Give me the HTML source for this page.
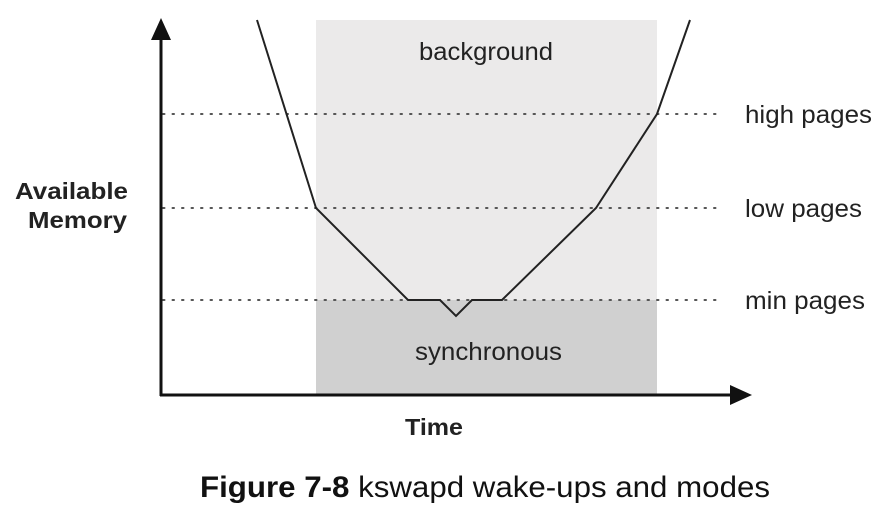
<!DOCTYPE html>
<html><head><style>
body{margin:0;background:#fff;}
svg{display:block;}
</style></head><body>
<svg width="892" height="505" xmlns="http://www.w3.org/2000/svg" font-family="Liberation Sans, sans-serif">
<rect x="316" y="20" width="341" height="280" fill="#ebeaea"/>
<rect x="316" y="300" width="341" height="94" fill="#d0d0d0"/>
<g stroke="#555" stroke-width="2" stroke-dasharray="1.5 8" stroke-linecap="round">
<line x1="163" y1="114" x2="722" y2="114"/>
<line x1="163" y1="208" x2="722" y2="208"/>
<line x1="163" y1="300" x2="722" y2="300"/>
</g>
<polyline points="257,20 316,208 408,300 440,300 456,316 472,300 502,300 596,208 657,114 690,20" fill="none" stroke="#222" stroke-width="2"/>
<line x1="161" y1="396" x2="161" y2="36" stroke="#111" stroke-width="3"/>
<polygon points="161,18 151,40 171,40" fill="#111"/>
<line x1="160" y1="395" x2="732" y2="395" stroke="#111" stroke-width="3"/>
<polygon points="752,395 730,385 730,405" fill="#111"/>
<g font-size="25" fill="#222">
<text x="419" y="60" textLength="134" lengthAdjust="spacingAndGlyphs">background</text>
<text x="415" y="360" textLength="147" lengthAdjust="spacingAndGlyphs">synchronous</text>
<text x="745" y="123" textLength="127" lengthAdjust="spacingAndGlyphs">high pages</text>
<text x="745" y="217" textLength="117" lengthAdjust="spacingAndGlyphs">low pages</text>
<text x="745" y="309" textLength="120" lengthAdjust="spacingAndGlyphs">min pages</text>
</g>
<g font-size="23" font-weight="bold" fill="#222">
<text x="15" y="199" textLength="113" lengthAdjust="spacingAndGlyphs">Available</text>
<text x="28" y="228" textLength="99" lengthAdjust="spacingAndGlyphs">Memory</text>
<text x="405" y="435" textLength="58" lengthAdjust="spacingAndGlyphs">Time</text>
</g>
<text x="200" y="497" font-size="30" fill="#111" textLength="570" lengthAdjust="spacingAndGlyphs"><tspan font-weight="bold">Figure 7-8</tspan>  kswapd wake-ups and modes</text>
</svg>
</body></html>
